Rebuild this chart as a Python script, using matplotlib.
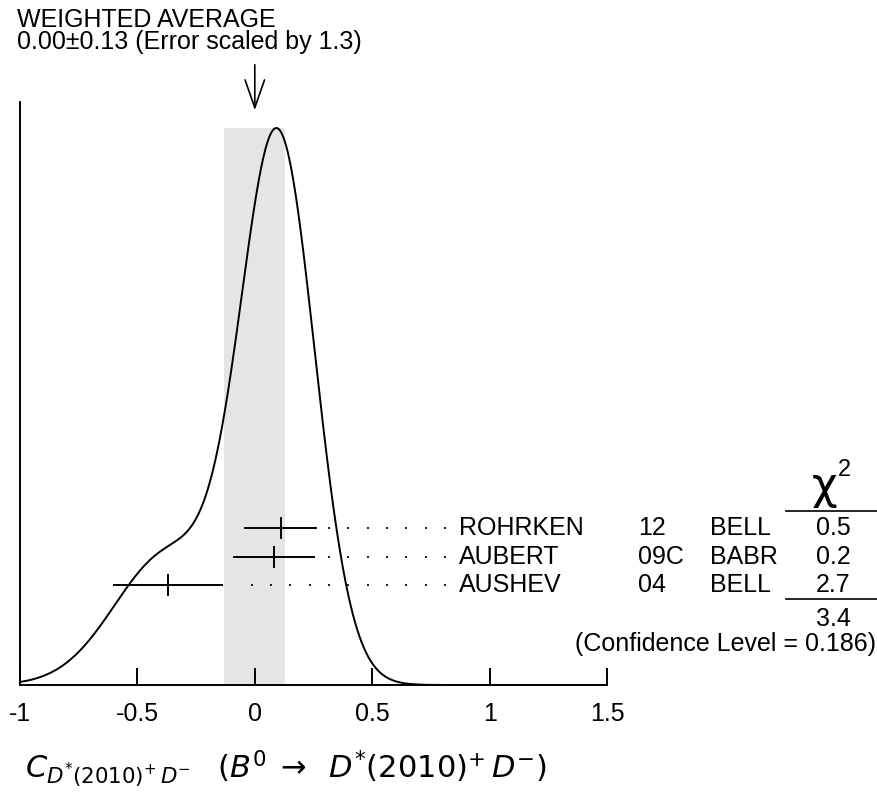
import numpy as np
import matplotlib
matplotlib.use("Agg")
import matplotlib.pyplot as plt

plt.rcParams['font.family'] = ['Liberation Sans', 'DejaVu Sans']
plt.rcParams['mathtext.fontset'] = 'dejavusans'

names = ['ROHRKEN', 'AUBERT', 'AUSHEV']
years = ['12', '09C', '04']
experiments = ['BELL', 'BABR', 'BELL']
values = [0.11, 0.08, -0.37]
errors = [0.15, 0.17, 0.23]
chi2 = ['0.5', '0.2', '2.7']
chi2_total = '3.4'
conf_level = '0.186'

avg = 0.00
avg_err = 0.13
scale_factor = 1.3

xticks = [-1, -0.5, 0, 0.5, 1, 1.5]
xtick_labels = ['-1', '-0.5', '0', '0.5', '1', '1.5']

W, H = 878, 797
fig = plt.figure(figsize=(W/100, H/100), dpi=100)

def fx(px):
    return px / W

def fy(py):
    return 1 - py / H

# plot area in pixels
x0, x1 = 20, 607
ybot, ytop = 685, 102
ax = fig.add_axes([fx(x0), fy(ybot), fx(x1) - fx(x0), (ybot - ytop) / H])
ax.set_xlim(-1, 1.5)
ax.set_ylim(0, ybot - ytop)
peak_h = 557
rows_y = [157, 128.5, 100]

# ideogram: gaussians with area ~ 1/sigma
xs = np.linspace(-1, 1.5, 800)
ys = np.zeros_like(xs)
for v, e in zip(values, errors):
    ys += (1 / e**2) * np.exp(-0.5 * ((xs - v) / e) ** 2)
ys = ys / ys.max() * peak_h

ax.axvspan(avg - avg_err, avg + avg_err, ymin=0, ymax=peak_h / (ybot - ytop),
           color='#e5e5e5', lw=0, zorder=0)
ax.plot(xs, ys, color='black', lw=1.4, zorder=3)

px_per_unit = (x1 - x0) / 2.5
dot_end = 0.81
dot_step = 19.33 / px_per_unit
for v, e, yy in zip(values, errors, rows_y):
    ax.plot([v - e, v + e], [yy, yy], color='black', lw=1.4, zorder=4)
    ax.plot([v, v], [yy - 10, yy + 10], color='black', lw=1.4, zorder=4)
    n = int(np.floor((dot_end - (v + e + 12 / px_per_unit)) / dot_step))
    dx = dot_end - dot_step * np.arange(n + 1)
    ax.plot(dx, np.full_like(dx, yy), ls='none', marker='s', ms=1.5,
            color='#222222', mew=0, zorder=4)

for s in ['top', 'right']:
    ax.spines[s].set_visible(False)
ax.spines['left'].set_linewidth(1.4)
ax.spines['bottom'].set_linewidth(1.4)
ax.set_yticks([])
ax.set_xticks(xticks)
ax.set_xticklabels(xtick_labels, fontsize=18)
ax.tick_params(axis='x', direction='in', length=12, width=1.4, pad=12)
ax.patch.set_visible(False)

fs = 18
fig.text(fx(17), fy(27), 'WEIGHTED AVERAGE', fontsize=fs, va='baseline')
fig.text(fx(17), fy(49), '%.2f\u00b1%.2f (Error scaled by %.1f)' % (avg, avg_err, scale_factor),
         fontsize=fs, va='baseline')
xa = x0 + (avg + 1) * px_per_unit
fig.add_artist(matplotlib.patches.FancyArrowPatch(
    (fx(xa), fy(62)), (fx(xa), fy(113)), transform=fig.transFigure,
    arrowstyle='->,head_length=20,head_width=7', color='black', lw=1.2,
    mutation_scale=1))

row_py = [528, 556.5, 585]
for nm, yr, ex, c, py in zip(names, years, experiments, chi2, row_py):
    fig.text(fx(459), fy(py), nm, fontsize=fs, va='center')
    fig.text(fx(638), fy(py), yr, fontsize=fs, va='center')
    fig.text(fx(710), fy(py), ex, fontsize=fs, va='center')
    fig.text(fx(833), fy(py), c, fontsize=fs, va='center', ha='center')

fig.text(fx(825), fy(486), '\u03c7', fontsize=32, ha='center', va='center',
         family='DejaVu Sans')
fig.text(fx(844), fy(470), '2', fontsize=17, ha='center', va='center')
fig.add_artist(plt.Line2D([fx(786), fx(878)], [fy(511), fy(511)], color='black', lw=1.2))
fig.add_artist(plt.Line2D([fx(786), fx(878)], [fy(599), fy(599)], color='black', lw=1.2))
fig.text(fx(833), fy(619), chi2_total, fontsize=fs, va='center', ha='center')
fig.text(fx(876), fy(644), '(Confidence Level = %s)' % conf_level, fontsize=fs,
         va='center', ha='right')

fig.text(fx(25), fy(778),
         r'$C_{D^{*}(2010)^{+}\,D^{-}}$   $(B^{0}\;\rightarrow\;\;D^{*}(2010)^{+}\,D^{-})$',
         fontsize=22, va='baseline')

fig.savefig('out.png', dpi=100)
